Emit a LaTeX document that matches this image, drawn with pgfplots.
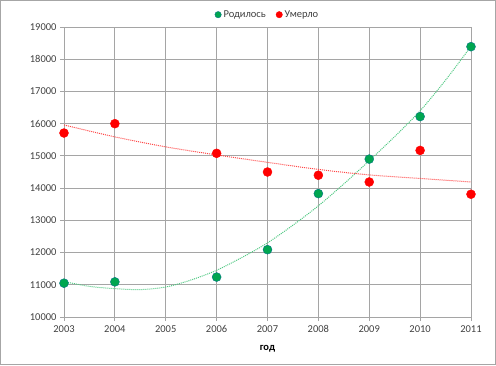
\documentclass[border=0pt]{standalone}
\usepackage{pgfplots}
\pgfplotsset{compat=1.18}
\usepackage{fontspec}
\setmainfont{Carlito}
\definecolor{gr}{RGB}{0,166,80}
\definecolor{grt}{RGB}{80,200,130}
\definecolor{rd}{RGB}{255,0,0}
\definecolor{rdt}{RGB}{255,70,70}
\definecolor{gridc}{RGB}{165,165,165}
\definecolor{txt}{RGB}{64,64,64}
\begin{document}
\begin{tikzpicture}[x=1pt,y=1pt]
\draw[color=gray!70, line width=1pt] (0.5,0.5) rectangle (495.5,364.5);
\begin{axis}[
  at={(64pt,48pt)}, anchor=south west,
  scale only axis, width=407pt, height=290pt,
  xmin=2003, xmax=2011, ymin=10000, ymax=19000,
  xtick={2003,2004,...,2011},
  ytick={10000,11000,...,19000},
  scaled ticks=false,
  grid=major,
  grid style={gridc, line width=0.8pt},
  axis x line*=bottom, axis y line*=left,
  axis line style={gridc, line width=0.8pt, -},
  tick style={gridc, line width=0.8pt},
  tick align=outside, major tick length=4pt,
  x tick label style={/pgf/number format/1000 sep=, font=\fontsize{10.5}{12}\selectfont, text=txt, yshift=-1pt},
  y tick label style={/pgf/number format/1000 sep=, /pgf/number format/fixed, font=\fontsize{10.5}{12}\selectfont, text=txt},
  /pgf/number format/assume math mode=true,
  xlabel={\textbf{год}},
  xlabel style={font=\fontsize{10.5}{12}\selectfont, text=black, yshift=-6pt},
  clip=false,
  legend columns=2,
  legend style={draw=none, fill=none, at={(0.5,1)}, anchor=south, yshift=4pt,
    font=\fontsize{10.5}{12}\selectfont, text=txt,
    /tikz/every even column/.append style={column sep=8pt}},
  legend image code/.code={\draw[#1] (0.2cm,0cm) circle (3.2pt);},
  legend cell align=left,
]
\addplot[grt, densely dotted, line width=1pt, smooth, forget plot] coordinates {
 (2003,11100) (2003.5,10950) (2004,10880) (2004.5,10850) (2005,10930)
 (2005.5,11150) (2006,11450) (2006.5,11850) (2007,12300) (2007.5,12850)
 (2008,13450) (2008.5,14130) (2009,14850) (2009.5,15600) (2010,16400)
 (2010.5,17350) (2011,18400)};
\addplot[rdt, densely dotted, line width=1pt, smooth, forget plot] coordinates {
 (2003,15960) (2004,15590) (2005,15280) (2006,15030) (2007,14800)
 (2008,14580) (2009,14410) (2010,14300) (2011,14190)};
\addplot[only marks, mark=*, mark size=4.5pt, fill=gr, draw=gr!70!blue, mark options={fill=gr, draw=gr!70!blue, line width=0.4pt}] coordinates {
 (2003,11050) (2004,11090) (2006,11240) (2007,12090) (2008,13830)
 (2009,14900) (2010,16220) (2011,18390)};
\addlegendentry{Родилось}
\addplot[only marks, mark=*, mark size=4.5pt, fill=rd, draw=rd, mark options={fill=rd, draw=rd, line width=0.4pt}] coordinates {
 (2003,15710) (2004,16000) (2006,15080) (2007,14500) (2008,14400)
 (2009,14190) (2010,15170) (2011,13810)};
\addlegendentry{Умерло}
\end{axis}
\end{tikzpicture}
\end{document}
